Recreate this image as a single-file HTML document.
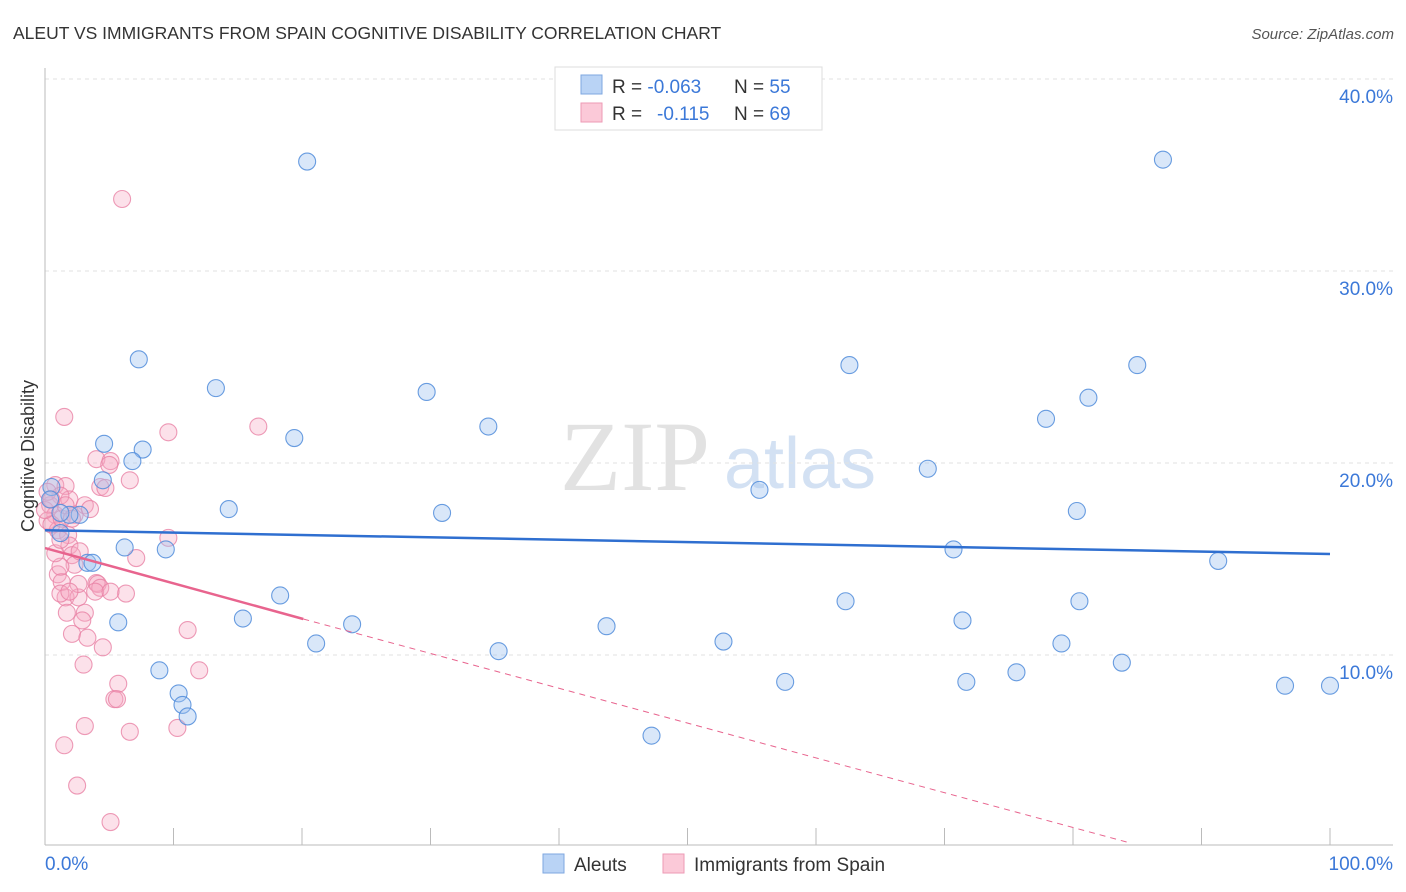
<!DOCTYPE html>
<html><head><meta charset="utf-8">
<style>
body{margin:0;background:#fff;font-family:"Liberation Sans",sans-serif;}
svg{display:block}
</style></head>
<body>
<svg id="chart" width="1406" height="892" xmlns="http://www.w3.org/2000/svg">
<text x="13" y="39" font-size="17.5" fill="#333">ALEUT VS IMMIGRANTS FROM SPAIN COGNITIVE DISABILITY CORRELATION CHART</text>
<text x="1394" y="39" font-size="15" fill="#555" font-style="italic" text-anchor="end">Source: ZipAtlas.com</text>
<g>
<text x="635" y="490" font-size="100" fill="#e2e2e2" font-family="Liberation Serif,serif" text-anchor="middle">ZIP</text>
<text x="800" y="488" font-size="72" fill="#d3e1f3" text-anchor="middle">atlas</text>
</g>
<g id="grid"></g>
<g id="axes"></g>
<g id="marks"></g>
<text transform="translate(34,456) rotate(-90)" font-size="18" fill="#333" text-anchor="middle">Cognitive Disability</text>
<g>
<rect x="555" y="67" width="267" height="63" fill="#fff" stroke="#ddd"/>
<rect x="581" y="75" width="21" height="19" fill="#b9d3f5" stroke="#7ea7e0"/>
<rect x="581" y="103" width="21" height="19" fill="#fbc9d8" stroke="#ee9ab5"/>
<text x="612" y="93" font-size="19" fill="#333">R = <tspan fill="#3b78d8">-0.063</tspan><tspan x="734">N = </tspan><tspan fill="#3b78d8">55</tspan></text>
<text x="612" y="120" font-size="19" fill="#333">R = <tspan x="657" fill="#3b78d8">-0.115</tspan><tspan x="734">N = </tspan><tspan fill="#3b78d8">69</tspan></text>
</g>
<g>
<rect x="543" y="854" width="21" height="19" fill="#b9d3f5" stroke="#7ea7e0"/>
<text x="574" y="871" font-size="19" fill="#333">Aleuts</text>
<rect x="663" y="854" width="21" height="19" fill="#fbc9d8" stroke="#ee9ab5"/>
<text x="694" y="871" font-size="19" fill="#333">Immigrants from Spain</text>
</g>
</svg>
<script>
const yTicks=[10,20,30,40];
const yTickLabels=["10.0%","20.0%","30.0%","40.0%"];
const xTickLabels=["0.0%","100.0%"];
const aleutX=[20.4,87.0,7.3,62.6,85.0,13.3,29.7,81.2,34.5,77.9,4.6,19.4,7.6,6.8,68.7,55.6,4.5,14.3,30.9,80.3,2.7,1.9,1.2,0.5,6.2,9.4,70.7,3.3,3.7,91.3,18.3,62.3,80.5,15.4,5.7,23.9,43.7,71.4,21.1,35.3,52.8,79.1,8.9,83.8,10.4,10.7,11.1,57.6,71.7,75.6,47.2,96.5,100,1.2,0.4];
const aleutY=[35.7,35.8,25.4,25.1,25.1,23.9,23.7,23.4,21.9,22.3,21.0,21.3,20.7,20.1,19.7,18.6,19.1,17.6,17.4,17.5,17.3,17.3,17.4,18.75,15.6,15.5,15.5,14.8,14.8,14.9,13.1,12.8,12.8,11.9,11.7,11.6,11.5,11.8,10.6,10.2,10.7,10.6,9.2,9.6,8.0,7.4,6.8,8.6,8.6,9.1,5.8,8.4,8.4,16.35,18.1];
const spainX=[6.0,1.5,9.6,16.6,4.0,5.1,5.0,4.3,6.6,4.7,9.6,7.1,0.8,1.6,1.9,1.2,0.4,0.8,0.2,1.0,0.5,1.8,1.3,2.3,0.0,1.9,2.1,2.3,1.0,1.3,1.6,2.6,3.1,1.2,1.7,2.9,2.1,3.3,4.0,4.5,3.0,4.1,6.3,5.7,5.4,5.6,3.1,6.6,10.3,11.1,12.0,1.5,2.5,5.1,2.6,4.3,1.2,0.8,0.2,1.6,3.1,3.5,2.1,0.5,1.2,2.7,3.9,1.9,5.1];
const spainY=[33.75,22.4,21.6,21.9,20.2,20.1,19.9,18.75,19.1,18.7,16.1,15.05,18.85,18.8,18.1,18.3,17.8,17.3,17.0,16.5,16.8,16.25,17.1,17.3,17.55,15.7,15.2,14.7,14.2,13.8,13.0,13.0,12.2,13.2,12.2,11.8,11.1,10.9,13.75,10.4,9.5,13.7,13.2,8.5,7.7,7.7,6.3,6.0,6.2,11.3,9.2,5.3,3.2,1.3,13.7,13.5,14.6,15.3,18.5,17.8,17.8,17.6,17.1,18.1,16.0,15.4,13.3,13.3,13.3];
const aleutTrend=[16.5,15.26];
const spainTrend=[15.57,11.875,0.2];
const spainTrendX=[0,20.1,84.5];
const NS="http://www.w3.org/2000/svg";
const xs=v=>45+v*12.85, ys=v=>847-v*19.2;
function mk(t,a,p){const e=document.createElementNS(NS,t);for(const k in a)e.setAttribute(k,a[k]);p.appendChild(e);return e;}
const grid=document.getElementById('grid'),axes=document.getElementById('axes'),marks=document.getElementById('marks');
yTicks.forEach((t,i)=>{
 const l=mk('line',{x1:45,x2:1393,y1:ys(t),y2:ys(t),stroke:'#e2e2e2','stroke-dasharray':'4,4'},grid);
 
 
 const tx=mk('text',{x:1393,y:ys(t)+24,'font-size':19,fill:'#3b78d8','text-anchor':'end'},axes);
 tx.textContent=yTickLabels[i];
 
 
});
mk('line',{x1:45,x2:45,y1:68,y2:845,stroke:'#bbb'},axes);
mk('line',{x1:45,x2:1393,y1:845,y2:845,stroke:'#bbb'},axes);
for(let i=0;i<=10;i++){mk('line',{x1:xs(i*10),x2:xs(i*10),y1:828,y2:845,stroke:'#bbb'},axes);}
const xl0=mk('text',{x:45,y:870,'font-size':19,fill:'#3b78d8'},axes);xl0.textContent=xTickLabels[0];


const xl1=mk('text',{x:1393,y:870,'font-size':19,fill:'#3b78d8','text-anchor':'end'},axes);xl1.textContent=xTickLabels[1];


spainX.forEach((x,i)=>{const c=mk('circle',{cx:xs(x),cy:ys(spainY[i]),r:8.5,fill:'rgba(246,168,195,0.35)',stroke:'rgba(232,130,165,0.8)','stroke-width':1.1},marks);
 
 });
aleutX.forEach((x,i)=>{const c=mk('circle',{cx:xs(x),cy:ys(aleutY[i]),r:8.5,fill:'rgba(160,195,240,0.4)',stroke:'rgba(80,140,218,0.85)','stroke-width':1.1},marks);
 
 });
const bt=mk('line',{x1:xs(0),y1:ys(aleutTrend[0]),x2:xs(100),y2:ys(aleutTrend[1]),stroke:'#2f6fd0','stroke-width':2.5},marks);


const pt=mk('line',{x1:xs(spainTrendX[0]),y1:ys(spainTrend[0]),x2:xs(spainTrendX[1]),y2:ys(spainTrend[1]),stroke:'#e8648e','stroke-width':2.5},marks);


const pd=mk('line',{x1:xs(spainTrendX[1]),y1:ys(spainTrend[1]),x2:xs(spainTrendX[2]),y2:ys(spainTrend[2]),stroke:'#e8648e','stroke-width':1,'stroke-dasharray':'6,5'},marks);


</script>
</body></html>
